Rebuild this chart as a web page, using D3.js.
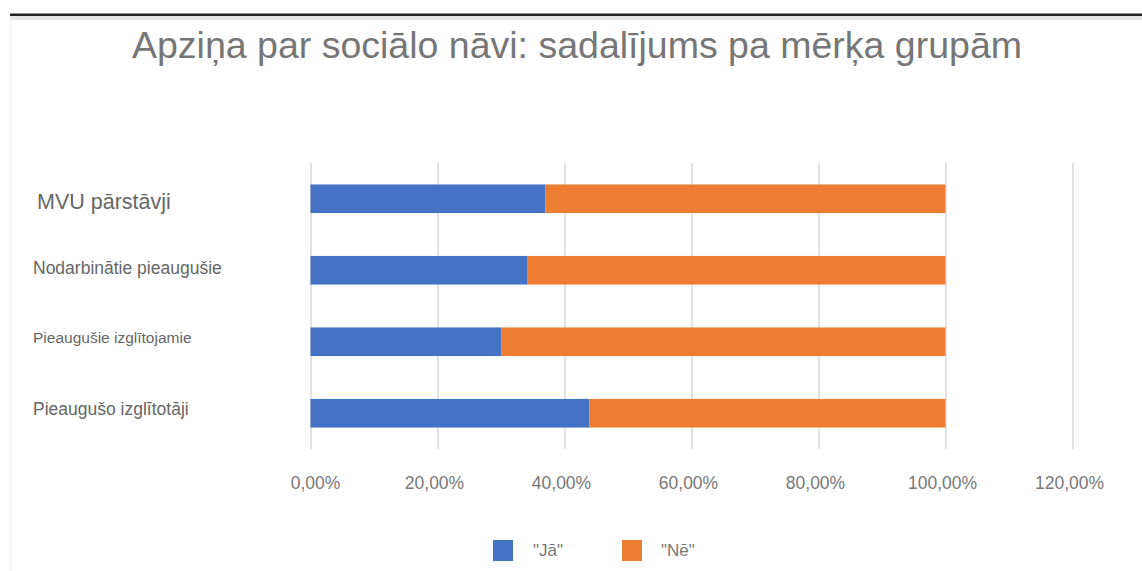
<!DOCTYPE html>
<html>
<head>
<meta charset="utf-8">
<script src="https://cdn.jsdelivr.net/npm/d3@7"></script>
<style>
  body { margin: 0; background: #fff; }
  svg { display: block; font-family: "Liberation Sans", Arial, sans-serif; }
</style>
</head>
<body>
<div id="chart"></div>
<script>
// data
const groups = ["MVU pārstāvji", "Nodarbinātie pieaugušie", "Pieaugušie izglītojamie", "Pieaugušo izglītotāji"];
const seriesNames = ["\"Jā\"", "\"Nē\""];
const yesValues = [37.0, 34.2, 30.1, 43.9];
const noValues = [63.0, 65.8, 69.9, 56.1];
const xTicks = [0, 20, 40, 60, 80, 100, 120];

(function() {
    const width = 1142, height = 571;
    const colors = ["#4472C4", "#ED7D31"];
    const labelSize = [21.5, 17.5, 15.5, 17.5];
    const labelDy = [10, 4, 1.5, 1.5];

    const svg = d3.select("#chart").append("svg")
        .attr("width", width).attr("height", height);

    // frame: dark top rule and faint left edge
    svg.append("rect").attr("x", 10).attr("y", 16).attr("width", width - 10).attr("height", 4).attr("fill", "#e6e6e6");
    svg.append("rect").attr("x", 10).attr("y", 13.5).attr("width", width - 10).attr("height", 2.5).attr("fill", "#222");
    svg.append("rect").attr("x", 10).attr("y", 16).attr("width", 1.5).attr("height", height - 16).attr("fill", "#f0f0f0");

    // title
    svg.append("text")
        .attr("x", 577).attr("y", 58)
        .attr("text-anchor", "middle")
        .style("font-size", "37.5px")
        .style("fill", "#767676")
        .text("Apziņa par sociālo nāvi: sadalījums pa mērķa grupām");

    const x = d3.scaleLinear().domain([0, 120]).range([310.5, 1072.5]);
    const y = d3.scaleBand().domain(groups).range([163, 449]).paddingInner(0.6).paddingOuter(0.3);

    // gridlines
    svg.append("g")
        .attr("transform", `translate(0,${y.range()[1]})`)
        .call(d3.axisBottom(x).tickValues(xTicks).tickSize(-(y.range()[1] - y.range()[0])).tickFormat(""))
        .call(g => g.select(".domain").remove())
        .call(g => g.selectAll("line").attr("stroke", "#d9d9d9").attr("stroke-width", 1.5));

    // tick labels
    const fmt = d => d.toFixed(2).replace(".", ",") + "%";
    svg.append("g").selectAll("text")
        .data(xTicks)
        .enter().append("text")
        .attr("x", d => x(d) + (d === 0 ? 5 : -3))
        .attr("y", 489)
        .attr("text-anchor", "middle")
        .style("font-size", "17.5px")
        .style("fill", "#777")
        .text(fmt);

    // stacked bars
    const rows = groups.map((g, i) => ({group: g, yes: yesValues[i], no: noValues[i]}));
    const stack = d3.stack().keys(["yes", "no"])(rows);

    svg.append("g").selectAll("g")
        .data(stack)
        .enter().append("g")
        .attr("fill", (d, i) => colors[i])
        .selectAll("rect")
        .data(d => d)
        .enter().append("rect")
        .attr("x", d => x(d[0]))
        .attr("width", d => x(d[1]) - x(d[0]))
        .attr("y", d => y(d.data.group))
        .attr("height", y.bandwidth());

    // category labels
    svg.append("g").selectAll("text")
        .data(groups)
        .enter().append("text")
        .attr("x", (d, i) => i === 0 ? 37 : 33)
        .attr("y", (d, i) => y(d) + y.bandwidth() / 2 + labelDy[i])
        .style("font-size", (d, i) => labelSize[i] + "px")
        .style("fill", "#666")
        .text(d => d);

    // legend
    const legend = svg.append("g").attr("transform", "translate(493,540)");
    const item = legend.selectAll("g")
        .data(seriesNames)
        .enter().append("g")
        .attr("transform", (d, i) => `translate(${i * 129},0)`);
    item.append("rect").attr("width", 20).attr("height", 21).attr("fill", (d, i) => colors[i]);
    item.append("text")
        .attr("x", (d, i) => i === 0 ? 40 : 39)
        .attr("y", 16)
        .style("font-size", "17px")
        .style("fill", "#777")
        .text(d => d);
})();
</script>
</body>
</html>
